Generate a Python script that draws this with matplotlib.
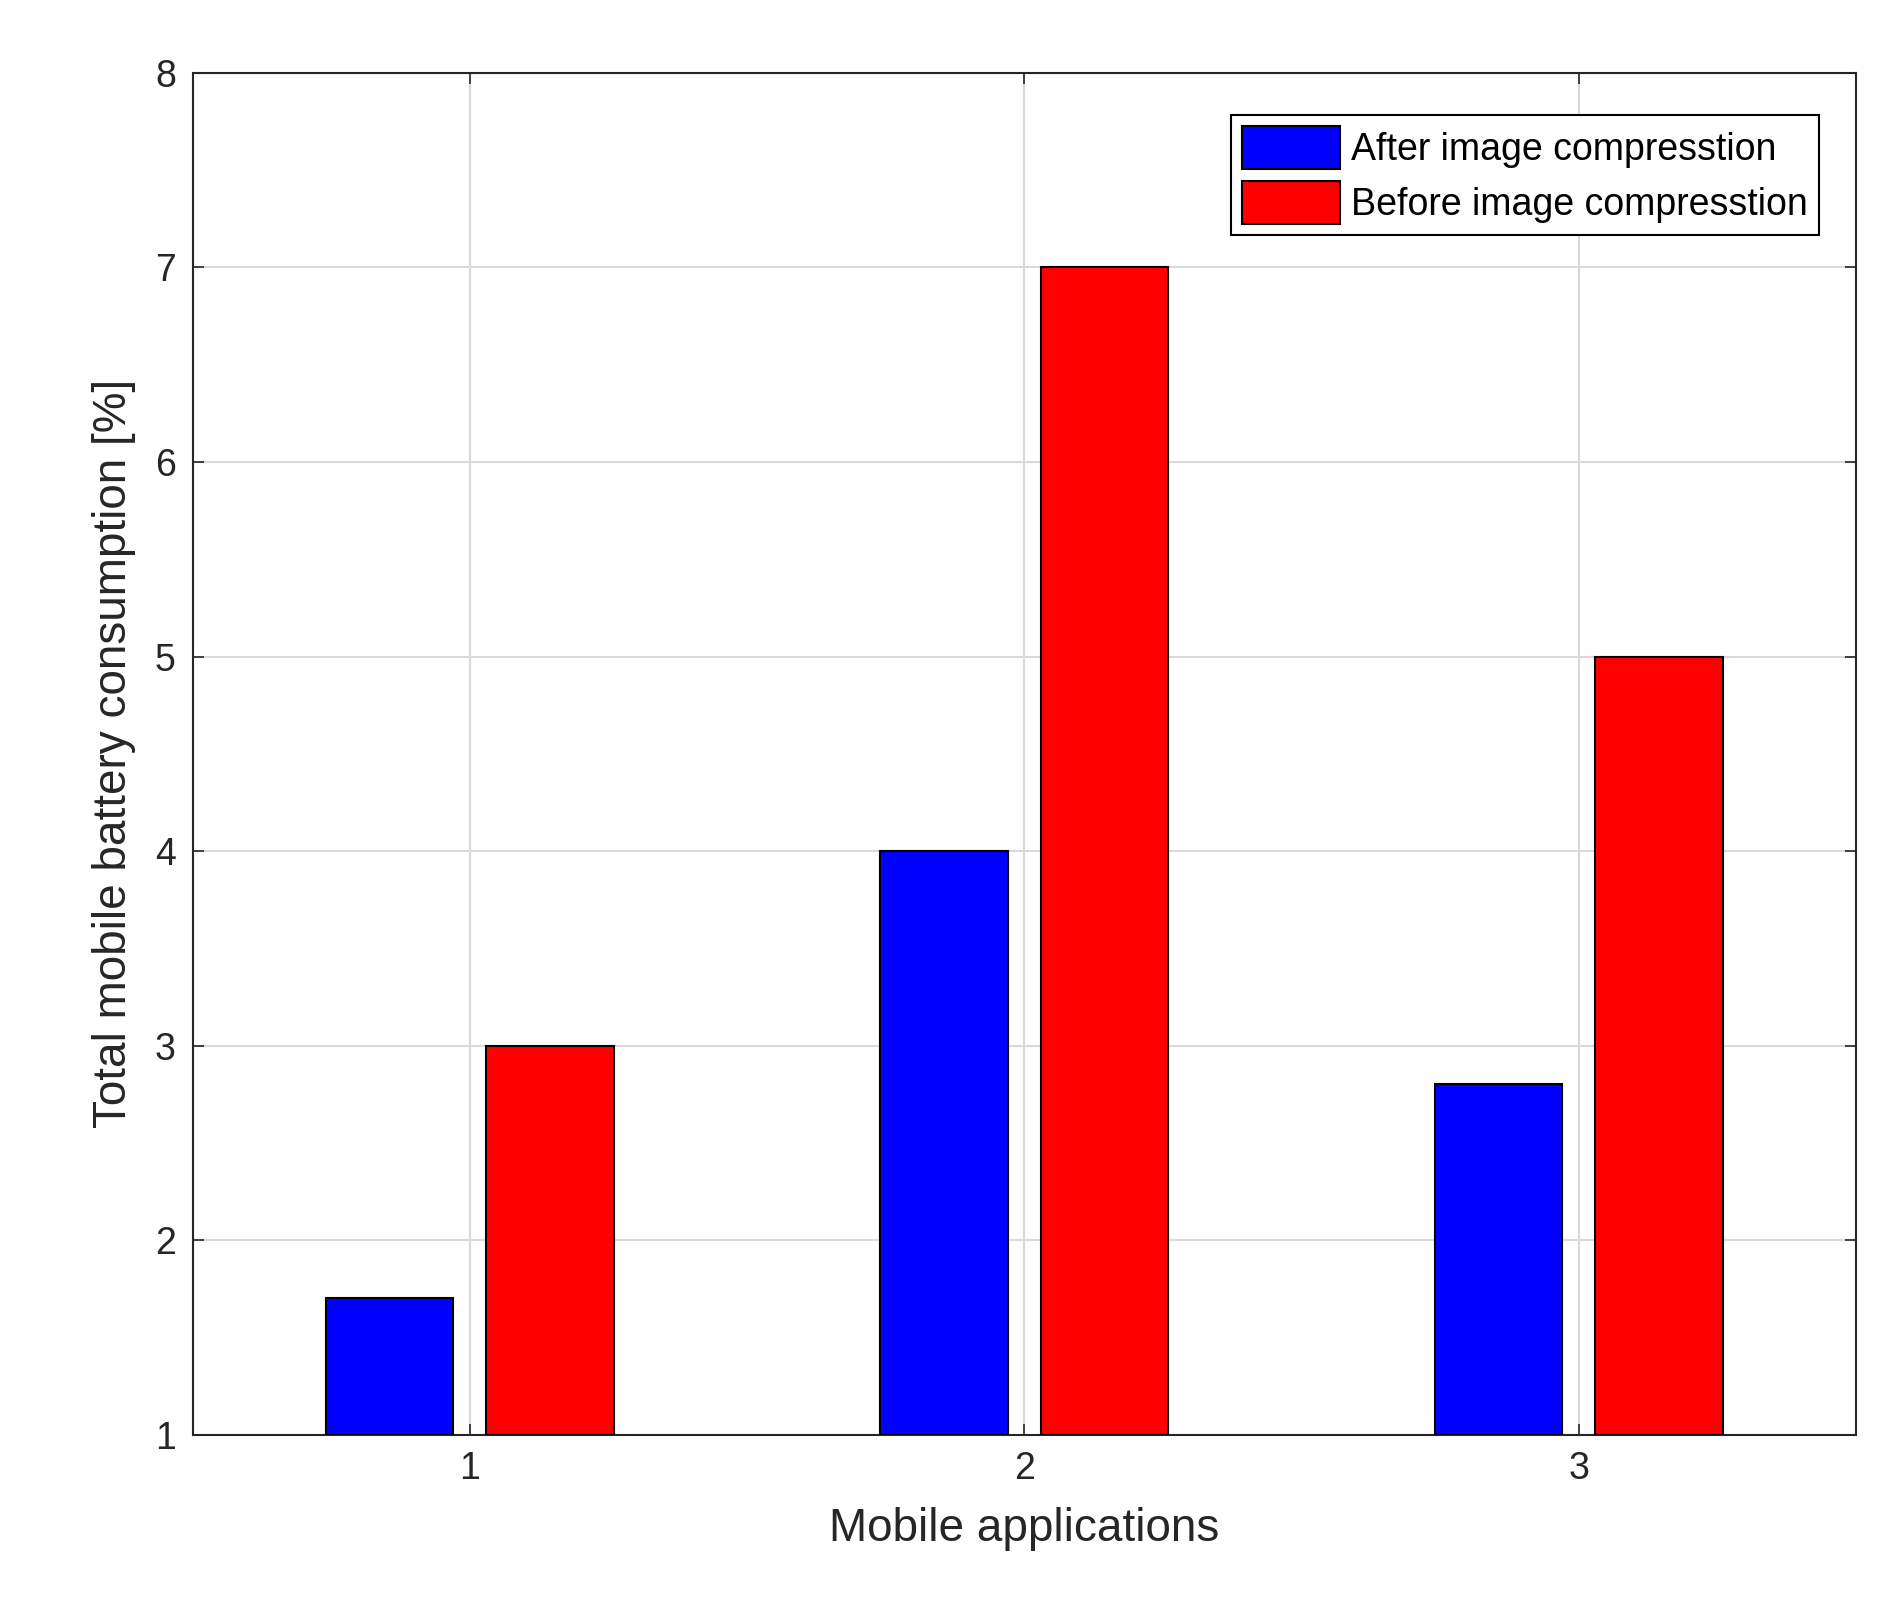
import matplotlib
matplotlib.use("Agg")
import matplotlib.pyplot as plt
import numpy as np

plt.rcParams['font.family'] = ['Liberation Sans', 'DejaVu Sans']

apps = [1, 2, 3]
after = [1.7, 4.0, 2.8]
before = [3.0, 7.0, 5.0]

fig = plt.figure(figsize=(18.88, 16.21), dpi=100)
ax = fig.add_axes([0.102, 0.115, 0.881, 0.84])
x = np.array(apps, dtype=float)
w = 0.23
ax.bar(x - 0.145, np.array(after) - 1, w, bottom=1, color='#0000ff', edgecolor='black', linewidth=1.5, label='After image compresstion', zorder=3)
ax.bar(x + 0.145, np.array(before) - 1, w, bottom=1, color='#ff0000', edgecolor='black', linewidth=1.5, label='Before image compresstion', zorder=3)
ax.set_xlim(0.5, 3.5)
ax.set_ylim(1, 8)
ax.set_xticks(apps)
ax.set_yticks(range(1, 9))
ax.grid(True, color='#d9d9d9', linewidth=1.5, zorder=0)
ax.tick_params(direction='in', top=True, right=True, length=8, width=1.2, labelsize=27, colors='#262626', pad=12)
for s in ax.spines.values():
    s.set_linewidth(1.5)
    s.set_color('#262626')
ax.set_xlabel('Mobile applications', fontsize=33, color='#262626', labelpad=14)
ax.set_ylabel('Total mobile battery consumption [%]', fontsize=33, color='#262626', labelpad=14)
leg = ax.legend(loc='upper right', fontsize=27, fancybox=False, edgecolor='black', framealpha=1,
                handlelength=2.6, handleheight=1.4, borderpad=0.3, labelspacing=0.3, handletextpad=0.3,
                bbox_to_anchor=(0.989, 0.983))
leg.get_frame().set_linewidth(1.5)
fig.savefig('out.png', dpi=100, facecolor='white')
